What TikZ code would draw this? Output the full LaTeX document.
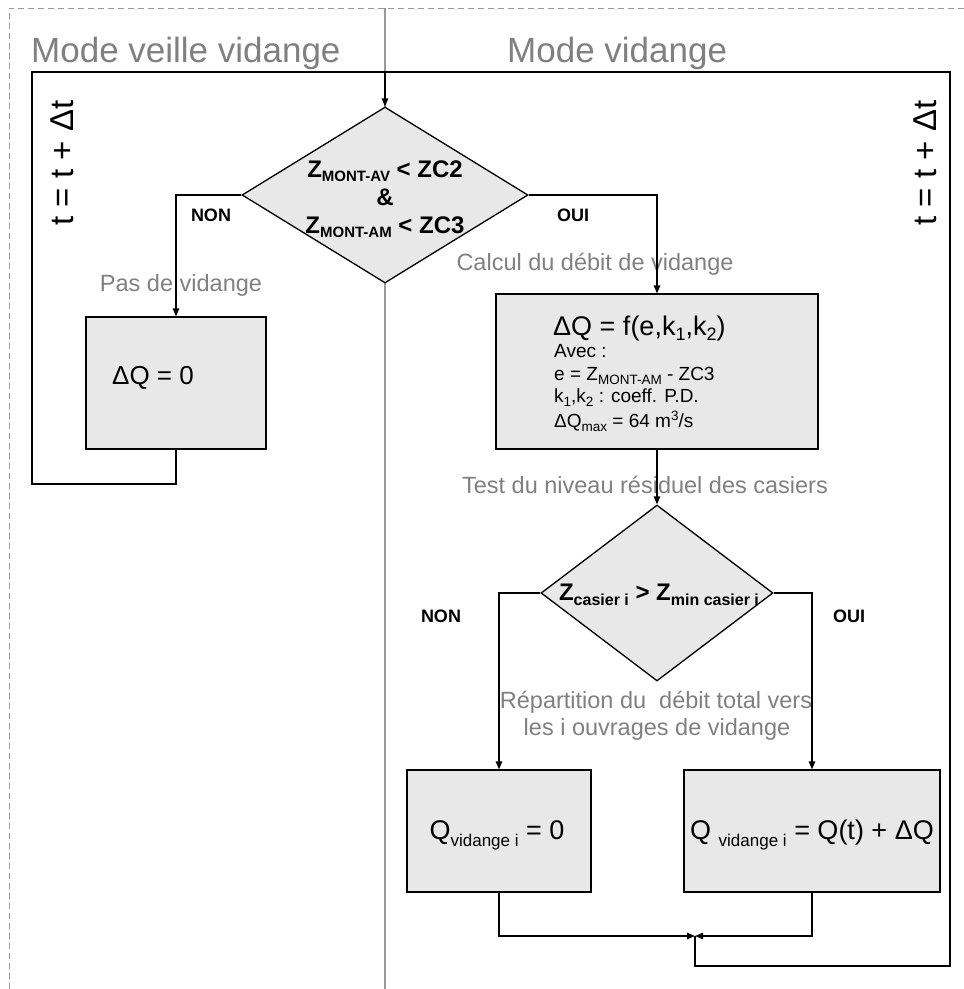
\documentclass[tikz,border=0pt]{standalone}
\usepackage{fontspec}
\setmainfont{Liberation Sans}
\usetikzlibrary{shapes.geometric,arrows.meta}
\definecolor{boxgray}{HTML}{E8E8E8}
\definecolor{labgray}{HTML}{808080}
\definecolor{framegray}{HTML}{999999}
\newcommand{\setfs}[1]{\fontsize{#1}{#1}\selectfont}
\newcommand{\lowsub}[3]{\raisebox{-#1pt}{\setfs{#2}#3}}
\newcommand{\upsup}[3]{\raisebox{#1pt}{\setfs{#2}#3}}
\tikzset{
  conn/.style={line width=1.3pt, draw=black},
  arr/.style={conn, -{Triangle[length=8pt,width=6.5pt]}},
  procbox/.style={draw=black, line width=1.3pt, fill=boxgray, rectangle, inner sep=0pt},
  decision/.style={draw=black, line width=1.3pt, fill=boxgray, diamond, inner sep=0pt},
  graylab/.style={text=labgray, font=\setfs{23.5}, inner sep=0pt, anchor=base},
  titlelab/.style={text=labgray, font=\setfs{35}, inner sep=0pt, anchor=base west},
  yesno/.style={font=\bfseries\setfs{18}, inner sep=0pt, anchor=base},
  dtext/.style={font=\bfseries\setfs{24}, inner sep=0pt, anchor=base},
  bigtext/.style={font=\setfs{27}, inner sep=0pt, anchor=base},
  smalltext/.style={font=\setfs{19}, inner sep=0pt, anchor=base west},
  looptext/.style={font=\setfs{33}, inner sep=0pt, rotate=90}
}
\begin{document}
\begin{tikzpicture}[x=1pt,y=-1pt]
\useasboundingbox (0,0) rectangle (964,989);
% frame and divider
\draw[framegray, line width=1pt, dash pattern=on 6pt off 4pt] (9,989) -- (9,8) -- (964,8);
\draw[framegray, line width=1.6pt] (385,8) -- (385,989);
% titles
\node[titlelab] (t1) at (31,62) {Mode veille vidange};
\node[titlelab] (t2) at (507,62) {Mode vidange};
% loop labels
\node[looptext] (lt1) at (62,163) {t = t + Δt};
\node[looptext] (lt2) at (925,163) {t = t + Δt};
% gray labels
\node[graylab] (lpas) at (181,291) {Pas de vidange};
\node[graylab] (lcalc) at (595,270) {Calcul du débit de vidange};
\node[graylab] (ltest) at (645,493) {Test du niveau résiduel des casiers};
\node[graylab] (lrep1) at (656,708) {Répartition du~ débit total vers};
\node[graylab] (lrep2) at (657,735) {les i ouvrages de vidange};
% yes/no labels
\node[yesno] (non1) at (211,221) {NON};
\node[yesno] (oui1) at (573,221) {OUI};
\node[yesno] (non2) at (441,622) {NON};
\node[yesno] (oui2) at (849,622) {OUI};
% coordinates of the loop
\coordinate (topmid) at (385,72);
\coordinate (tl) at (32,72);
\coordinate (tr) at (950,72);
\coordinate (bl) at (32,484);
\coordinate (br) at (950,966);
\coordinate (jb) at (695,966);
\coordinate (j) at (695,936);
% shapes
\node[decision, minimum width=286pt, minimum height=176pt] (d1) at (385,195) {};
\node[procbox, minimum width=180pt, minimum height=132pt] (b1) at (176,383) {};
\node[procbox, minimum width=322pt, minimum height=155pt] (b2) at (657,371.5) {};
\node[decision, minimum width=232pt, minimum height=176pt] (d2) at (657,593) {};
\node[procbox, minimum width=184pt, minimum height=122pt] (b3) at (499,831) {};
\node[procbox, minimum width=256pt, minimum height=122pt] (b4) at (812,831) {};
% connectors
\draw[conn] (b1.south) |- (bl) -- (tl) -- (tr) -- (br) -- (jb) -- (j);
\draw[arr] (topmid) -- (d1.north);
\draw[arr] (d1.west) -| (b1.north);
\draw[arr] (d1.east) -| (b2.north);
\draw[arr] (b2.south) -- (d2.north);
\draw[arr] (d2.west) -| (b3.north);
\draw[arr] (d2.east) -| (b4.north);
\draw[arr] (b3.south) |- (j);
\draw[arr] (b4.south) |- (j);
% diamond texts
\node[dtext] (d1a) at (385,177) {Z\lowsub{4}{15}{MONT-AV} < ZC2};
\node[dtext] (d1b) at (385,205) {\&};
\node[dtext] (d1c) at (385,233) {Z\lowsub{4}{15}{MONT-AM} < ZC3};
\node[dtext] (d2a) at (659,600) {Z\lowsub{5}{16}{casier i} > Z\lowsub{5}{16}{min casier i}};
% box texts
\node[bigtext, anchor=base west, font=\setfs{26}] (b1t) at (112,384) {ΔQ = 0};
\node[bigtext, anchor=base west] (b2a) at (553,335) {ΔQ = f(e,k\lowsub{5}{18}{1},k\lowsub{5}{18}{2})};
\node[smalltext] (b2b) at (554,357) {Avec :};
\node[smalltext] (b2c) at (554,380) {e = Z\lowsub{4}{13.5}{MONT-AM} - ZC3};
\node[smalltext] (b2d) at (554,402) {k\lowsub{4}{13.5}{1},k\lowsub{4}{13.5}{2} : coeff. P.D.};
\node[smalltext] (b2e) at (554,427) {ΔQ\lowsub{4}{13.5}{max} = 64 m\upsup{7}{13.5}{3}/s};
\node[bigtext] (b3t) at (497,839) {Q\lowsub{7}{17}{vidange i} = 0};
\node[bigtext] (b4t) at (812,839) {Q \lowsub{7}{17}{vidange i} = Q(t) + ΔQ};
\end{tikzpicture}
\end{document}
